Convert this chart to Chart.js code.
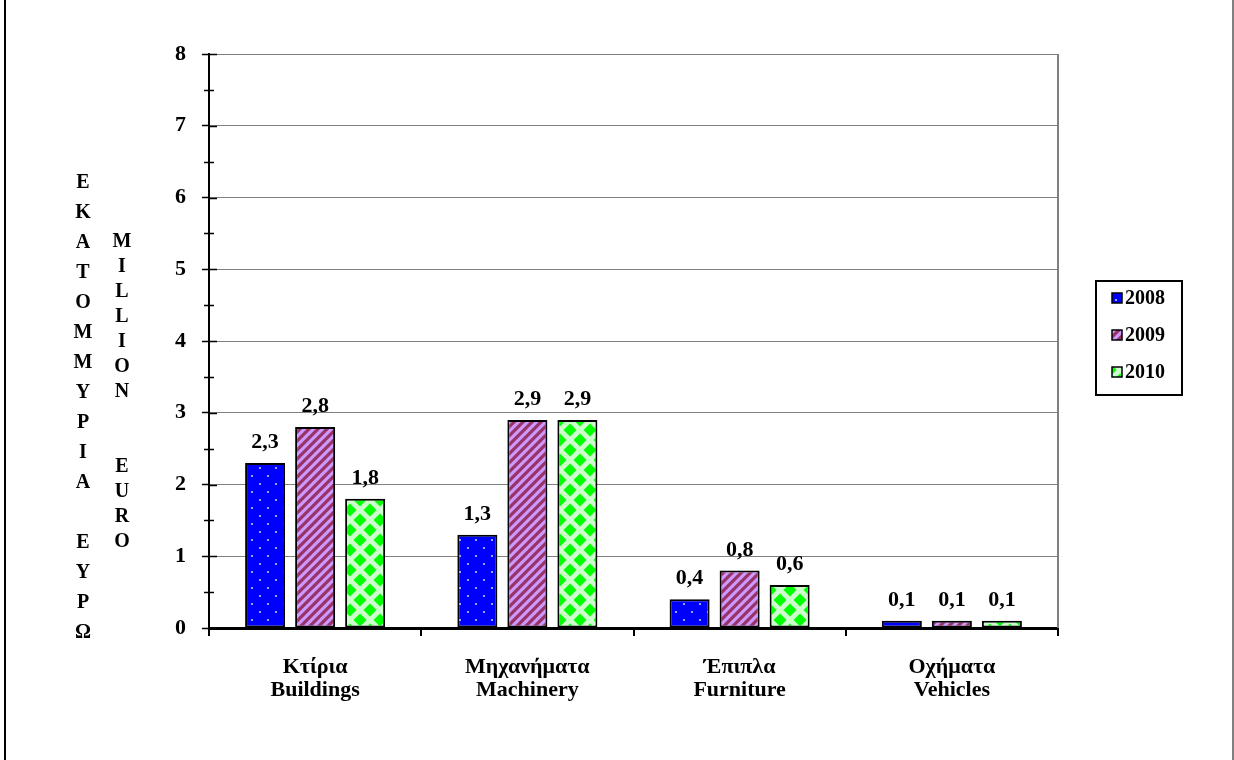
<!DOCTYPE html>
<html>
<head>
<meta charset="utf-8">
<script src="https://cdn.jsdelivr.net/npm/chart.js@4/dist/chart.umd.min.js"></script>
<style>
html, body { margin: 0; padding: 0; background: #ffffff; }
canvas { display: block; }
</style>
</head>
<body>
<canvas id="myChart" width="1234" height="760"></canvas>
<script>
// Données du graphique
var categories = [["Κτίρια", "Buildings"], ["Μηχανήματα", "Machinery"], ["Έπιπλα", "Furniture"], ["Οχήματα", "Vehicles"]];
var seriesNames = ["2008", "2009", "2010"];
var values2008 = [2.3, 1.3, 0.4, 0.1];
var values2009 = [2.8, 2.9, 0.8, 0.1];
var values2010 = [1.8, 2.9, 0.6, 0.1];
var yMin = 0;
var yMax = 8;
var yStep = 1;
var titleGreek = "ΕΚΑΤΟΜΜΥΡΙΑ ΕΥΡΩ";
var titleEnglish = "MILLION  EURO";

var FONT = "'Liberation Serif', 'Times New Roman', serif";

var ctx = document.getElementById('myChart').getContext('2d');

// Motifs de remplissage (points, hachures, losanges)
function dotPattern() {
    var c = document.createElement('canvas');
    c.width = 16; c.height = 16;
    var g = c.getContext('2d');
    g.fillStyle = '#0000FF';
    g.fillRect(0, 0, 16, 16);
    g.fillStyle = '#A0A0FF';
    g.fillRect(3, 3, 2, 2);
    g.fillRect(11, 11, 2, 2);
    return ctx.createPattern(c, 'repeat');
}

function stripePattern() {
    var c = document.createElement('canvas');
    c.width = 9; c.height = 9;
    var g = c.getContext('2d');
    g.fillStyle = '#CC99FF';
    g.fillRect(0, 0, 9, 9);
    g.strokeStyle = '#993366';
    g.lineWidth = 3.2;
    g.beginPath();
    g.moveTo(-2, 11); g.lineTo(11, -2);
    g.moveTo(-6.5, 6.5); g.lineTo(6.5, -6.5);
    g.moveTo(2.5, 15.5); g.lineTo(15.5, 2.5);
    g.stroke();
    return ctx.createPattern(c, 'repeat');
}

function diamondPattern() {
    var s = 20, r = 6.5;
    var c = document.createElement('canvas');
    c.width = s; c.height = s;
    var g = c.getContext('2d');
    g.fillStyle = '#CCFFCC';
    g.fillRect(0, 0, s, s);
    g.fillStyle = '#00FF00';
    var centres = [[s / 2, s / 2], [0, 0], [s, 0], [0, s], [s, s]];
    centres.forEach(function(p) {
        g.beginPath();
        g.moveTo(p[0], p[1] - r);
        g.lineTo(p[0] + r, p[1]);
        g.lineTo(p[0], p[1] + r);
        g.lineTo(p[0] - r, p[1]);
        g.closePath();
        g.fill();
    });
    return ctx.createPattern(c, 'repeat');
}

var fills = [dotPattern(), stripePattern(), diamondPattern()];

function formatValue(v) {
    return String(v).replace('.', ',');
}

// Plugin : cadre, titre vertical, petites graduations, étiquettes, légende
var decorPlugin = {
    id: 'decor',
    beforeDraw: function(chart) {
        var c = chart.ctx;
        c.save();
        c.fillStyle = '#ffffff';
        c.fillRect(0, 0, chart.width, chart.height);
        c.fillStyle = '#000000';
        c.fillRect(4, 0, 2, chart.height);
        c.fillStyle = '#808080';
        c.fillRect(1232, 0, 2, chart.height);
        c.restore();
    },
    afterDatasetsDraw: function(chart) {
        var c = chart.ctx;
        var area = chart.chartArea;
        var y = chart.scales.y;
        c.save();
        // bord droit gris
        c.strokeStyle = '#808080';
        c.lineWidth = 2;
        c.beginPath();
        c.moveTo(area.right, area.top);
        c.lineTo(area.right, area.bottom);
        c.stroke();

        // graduations
        c.strokeStyle = '#000000';
        c.lineWidth = 1.5;
        c.beginPath();
        for (var v = yMin; v < yMax; v += yStep) {
            var py = Math.round(y.getPixelForValue(v + yStep / 2)) + 0.5;
            c.moveTo(area.left - 5, py);
            c.lineTo(area.left + 5, py);
        }
        for (var w = yMin + yStep; w <= yMax; w += yStep) {
            var qy = Math.round(y.getPixelForValue(w)) + 0.5;
            c.moveTo(area.left, qy);
            c.lineTo(area.left + 8, qy);
        }
        c.stroke();

        // valeurs au-dessus des barres
        c.fillStyle = '#000000';
        c.font = 'bold 22px ' + FONT;
        c.textAlign = 'center';
        c.textBaseline = 'alphabetic';
        chart.data.datasets.forEach(function(ds, i) {
            var meta = chart.getDatasetMeta(i);
            meta.data.forEach(function(bar, j) {
                c.fillText(formatValue(ds.data[j]), bar.x, bar.y - 15);
            });
        });

        // titre de l'axe vertical, lettre par lettre
        c.font = 'bold 20px ' + FONT;
        c.textBaseline = 'middle';
        titleGreek.split('').forEach(function(ch, k) {
            if (ch !== ' ') c.fillText(ch, 83, 183 + k * 30);
        });
        titleEnglish.split('').forEach(function(ch, k) {
            if (ch !== ' ') c.fillText(ch, 122, 242 + k * 25);
        });

        // légende
        c.strokeStyle = '#000000';
        c.lineWidth = 2;
        c.strokeRect(1096, 281, 86, 114);
        c.font = 'bold 20px ' + FONT;
        c.textAlign = 'left';
        chart.data.datasets.forEach(function(ds, i) {
            var ly = 298 + i * 37;
            c.fillStyle = ds.backgroundColor;
            c.fillRect(1112, ly - 5, 10, 10);
            c.lineWidth = 1.5;
            c.strokeRect(1112, ly - 5, 10, 10);
            c.fillStyle = '#000000';
            c.fillText(ds.label, 1125, ly + 1);
        });
        c.restore();
    }
};

var myChart = new Chart(ctx, {
    type: 'bar',
    data: {
        labels: categories,
        datasets: [{
            label: seriesNames[0],
            data: values2008,
            backgroundColor: fills[0]
        }, {
            label: seriesNames[1],
            data: values2009,
            backgroundColor: fills[1]
        }, {
            label: seriesNames[2],
            data: values2010,
            backgroundColor: fills[2]
        }]
    },
    options: {
        responsive: false,
        animation: false,
        devicePixelRatio: 1,
        layout: { padding: { left: 0, right: 176, top: 54, bottom: 0 } },
        datasets: {
            bar: {
                borderColor: '#000000',
                borderWidth: 2,
                borderSkipped: false,
                categoryPercentage: 0.707,
                barPercentage: 0.8
            }
        },
        plugins: {
            legend: { display: false },
            tooltip: { enabled: false }
        },
        scales: {
            x: {
                grid: {
                    offset: true,
                    drawOnChartArea: false,
                    color: '#000000',
                    lineWidth: 2,
                    tickLength: 8
                },
                border: { color: '#000000', width: 3 },
                ticks: {
                    color: '#000000',
                    font: { family: FONT, size: 22, weight: 'bold', lineHeight: 1.05 },
                    padding: 20,
                    maxRotation: 0
                },
                afterFit: function(scale) { scale.height = 132; }
            },
            y: {
                min: yMin,
                max: yMax,
                ticks: {
                    stepSize: yStep,
                    color: '#000000',
                    font: { family: FONT, size: 22, weight: 'bold' },
                    padding: 16
                },
                grid: {
                    color: '#808080',
                    lineWidth: 1,
                    tickColor: '#000000',
                    tickWidth: 1.5,
                    tickLength: 7
                },
                border: { color: '#000000', width: 2 },
                afterFit: function(scale) { scale.width = 209; }
            }
        }
    },
    plugins: [decorPlugin]
});
</script>
</body>
</html>
